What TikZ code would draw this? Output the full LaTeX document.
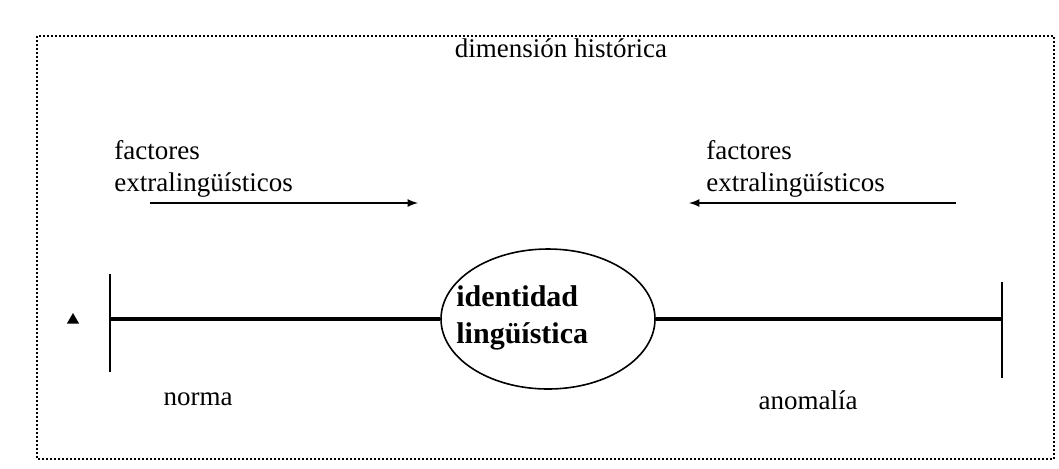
\documentclass[tikz,border=0pt]{standalone}
\usepackage{fontspec}
\setmainfont{Liberation Serif}
\usetikzlibrary{arrows,positioning,shapes.geometric}

\begin{document}
\begin{tikzpicture}[
x=0.5pt, y=-0.5pt,
txtnode/.style={inner sep=0pt, font=\fontsize{13.5}{16}\selectfont},
factnode/.style={txtnode, align=left, anchor=north west},
idnode/.style={ellipse, draw, line width=0.8pt, minimum width=107pt, minimum height=70pt, inner sep=0pt},
idtext/.style={inner sep=0pt, align=left, anchor=west, font=\fontsize{15}{18.5}\selectfont\bfseries},
axisline/.style={line width=2.2pt},
barline/.style={line width=1pt},
factarrow/.style={line width=0.8pt, arrows={-latex}}]
\useasboundingbox (0,0) rectangle (1059,468);
% Frame
\draw[densely dotted, line width=1pt] (37,36) rectangle (1054,459);
% Nodes
\node[txtnode] (dim) at (561,48) {dimensión histórica};
\node[factnode] (fleft) at (114,140) {factores\\extralingüísticos};
\node[factnode] (fright) at (706,140) {factores\\extralingüísticos};
\node[idnode] (id) at (548,319) {};
\node[idtext] (idtxt) at (456,318) {identidad\\lingüística};
\node[txtnode] (norma) at (198,399) {norma};
\node[txtnode] (anom) at (808,400) {anomalía};
\node[regular polygon, regular polygon sides=3, fill, inner sep=0pt, minimum size=7pt] (tri) at (73,320) {};
% Coordinates
\coordinate (al1) at (150,203);
\coordinate (al2) at (418,203);
\coordinate (ar1) at (956,203);
\coordinate (ar2) at (689,203);
\coordinate (lbar) at (110,319);
\coordinate (lbartop) at (110,274);
\coordinate (lbarbot) at (110,372);
\coordinate (rbar) at (1002,319);
\coordinate (rbartop) at (1002,282);
\coordinate (rbarbot) at (1002,378);
% Lines
\draw[factarrow] (al1) -- (al2);
\draw[factarrow] (ar1) -- (ar2);
\draw[axisline] (lbar) -- (id.west);
\draw[axisline] (id.east) -- (rbar);
\draw[barline] (lbartop) -- (lbarbot);
\draw[barline] (rbartop) -- (rbarbot);
\end{tikzpicture}
\end{document}
